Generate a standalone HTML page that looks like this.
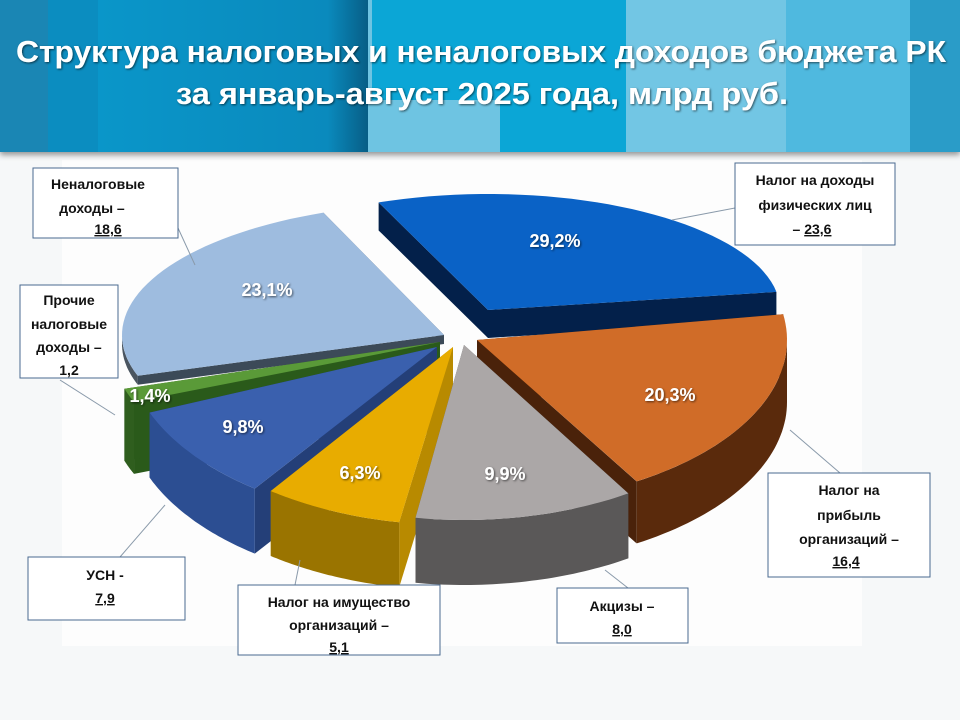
<!DOCTYPE html>
<html><head><meta charset="utf-8"><style>
html,body{margin:0;padding:0;background:#f6f8f9;}
svg{display:block}
.l{font-family:"Liberation Sans Narrow","Liberation Sans",sans-serif;font-weight:bold;font-size:14px;fill:#111;text-anchor:middle}
.p{font-family:"Liberation Sans Narrow","Liberation Sans",sans-serif;font-weight:bold;font-size:18px;fill:#fff;text-anchor:middle}
</style></head><body>
<svg id="s" width="960" height="720" xmlns="http://www.w3.org/2000/svg">
<defs>
<filter id="sh" x="-5%" y="-5%" width="110%" height="130%"><feDropShadow dx="0" dy="3" stdDeviation="3" flood-color="#000" flood-opacity="0.4"/></filter>
<filter id="ts"><feDropShadow dx="1" dy="1" stdDeviation="1" flood-color="#000" flood-opacity="0.6"/></filter>
<linearGradient id="g2" x1="0" x2="1"><stop offset="0" stop-color="#0a96c9"/><stop offset="0.85" stop-color="#0a8abd"/><stop offset="1" stop-color="#075e86"/></linearGradient>
</defs>
<rect x="0" y="0" width="960" height="720" fill="#f6f8f9"/>
<rect x="62" y="160" width="800" height="486" fill="#fdfdfd"/>
<g filter="url(#sh)">
<rect x="0" y="0" width="960" height="152" fill="#0a9acb"/>
</g>
<rect x="0" y="0" width="48" height="152" fill="#1a86b4"/>
<rect x="48" y="0" width="50" height="152" fill="#0b8dc0"/>
<rect x="98" y="0" width="270" height="152" fill="url(#g2)"/>
<rect x="368" y="0" width="132" height="152" fill="#6ec4e2"/>
<rect x="372" y="0" width="128" height="100" fill="#0ba6d6"/>
<rect x="500" y="0" width="126" height="152" fill="#0ba6d6"/>
<rect x="626" y="0" width="160" height="152" fill="#72c6e4"/>
<rect x="786" y="0" width="124" height="152" fill="#4fb9df"/>
<rect x="910" y="0" width="50" height="152" fill="#2a9cc8"/>
<g filter="url(#ts)" font-family="'Liberation Sans Narrow','Liberation Sans',sans-serif" font-weight="bold" fill="#fff" font-size="31">
<text x="16" y="62" textLength="930" lengthAdjust="spacingAndGlyphs">Структура налоговых и неналоговых доходов бюджета РК</text>
<text x="176" y="104" textLength="612" lengthAdjust="spacingAndGlyphs">за январь-август  2025 года, млрд руб.</text>
</g>
<g id="pie"></g>
<g stroke="#8a9aaa" stroke-width="1" fill="none">
<line x1="178" y1="228" x2="195" y2="265"/>
<line x1="60" y1="380" x2="115" y2="415"/>
<line x1="735" y1="208" x2="672" y2="220"/>
<line x1="840" y1="473" x2="790" y2="430"/>
<line x1="628" y1="588" x2="605" y2="570"/>
<line x1="295" y1="585" x2="300" y2="560"/>
<line x1="120" y1="557" x2="165" y2="505"/>
</g>
<g fill="#fff" stroke="#4a6a90" stroke-width="1">
<rect x="33" y="168" width="145" height="70"/>
<rect x="20" y="285" width="98" height="93"/>
<rect x="735" y="163" width="160" height="82"/>
<rect x="768" y="473" width="162" height="104"/>
<rect x="557" y="588" width="131" height="55"/>
<rect x="238" y="585" width="202" height="70"/>
<rect x="28" y="557" width="157" height="63"/>
</g>
<g class="l">
<text class="l" x="98" y="189">Неналоговые</text>
<text class="l" x="92" y="213">доходы –</text>
<text class="l" x="108" y="234" text-decoration="underline">18,6</text>
<text class="l" x="69" y="305">Прочие</text>
<text class="l" x="69" y="329">налоговые</text>
<text class="l" x="69" y="352">доходы –</text>
<text class="l" x="69" y="375">1,2</text>
<text class="l" x="815" y="185">Налог на доходы</text>
<text class="l" x="815" y="210">физических лиц</text>
<text class="l" x="812" y="234">–  <tspan text-decoration="underline">23,6</tspan></text>
<text class="l" x="849" y="495">Налог на</text>
<text class="l" x="849" y="520">прибыль</text>
<text class="l" x="849" y="544">организаций –</text>
<text class="l" x="846" y="566" text-decoration="underline">16,4</text>
<text class="l" x="622" y="611">Акцизы –</text>
<text class="l" x="622" y="634" text-decoration="underline">8,0</text>
<text class="l" x="339" y="607">Налог на имущество</text>
<text class="l" x="339" y="630">организаций –</text>
<text class="l" x="339" y="652" text-decoration="underline">5,1</text>
<text class="l" x="105" y="580">УСН -</text>
<text class="l" x="105" y="603" text-decoration="underline">7,9</text>
</g>
<g id="pl"></g>
</svg>
<script>
var NS="http://www.w3.org/2000/svg";
var sl=[
 {n:"blue",cx:488,cy:310,rx:292,ry:116,D:28,a0:-112,a1:-9,top:"#0a62c6",side:"#062a58",wall:"#03204a",lab:"29,2%",lx:555,ly:247},
 {n:"or",cx:477,cy:340,rx:310,ry:165,D:62,a0:-9,a1:59,top:"#d06c28",side:"#5a2a0c",wall:"#4a220a",lab:"20,3%",lx:670,ly:401},
 {n:"gr",cx:464,cy:345,rx:310,ry:175,D:65,a0:58,a1:99,top:"#aba7a7",side:"#5a5858",wall:"#444",lab:"9,9%",lx:505,ly:480},
 {n:"ye",cx:453,cy:347,rx:310,ry:178,D:65,a0:100,a1:126,top:"#e8ac00",side:"#9a7400",wall:"#b88a00",lab:"6,3%",lx:360,ly:479},
 {n:"db",cx:437,cy:347,rx:310,ry:175,D:65,a0:126,a1:158,top:"#3a60ae",side:"#2c4e92",wall:"#243f78",lab:"9,8%",lx:243,ly:433},
 {n:"gn",cx:440,cy:342,rx:330,ry:160,D:72,a0:158,a1:163,top:"#5a9a38",side:"#2f5e1e",wall:"#2a5a1a",lab:"1,4%",lx:150,ly:402},
 {n:"lb",cx:444,cy:335,rx:322,ry:132,D:9,a0:162,a1:248,top:"#9ebcdf",side:"#4a5560",wall:"#3c4a58",lab:"23,1%",lx:267,ly:296}
];
function P(s,a,dz){var r=a*Math.PI/180;return [s.cx+s.rx*Math.cos(r),s.cy+s.ry*Math.sin(r)+(dz||0)];}
function arc(s,a0,a1,dz,rev){var pts=[],n=40;for(var i=0;i<=n;i++){var t=rev?a1-(a1-a0)*i/n:a0+(a1-a0)*i/n;var p=P(s,t,dz);pts.push(p[0].toFixed(1)+" "+p[1].toFixed(1));}return pts.join(" L");}
function path(d,f){var e=document.createElementNS(NS,"path");e.setAttribute("d",d);e.setAttribute("fill",f);document.getElementById("pie").appendChild(e);}
var order=["blue","lb","or","gn","db","ye","gr"];
order.forEach(function(k){var s=sl.filter(function(x){return x.n==k})[0];
 var cx=s.cx,cy=s.cy,D=s.D;var p0=P(s,s.a0),p1=P(s,s.a1);
 path("M"+cx+" "+cy+" L"+p0[0]+" "+p0[1]+" L"+p0[0]+" "+(p0[1]+D)+" L"+cx+" "+(cy+D)+" Z",s.wall);
 path("M"+cx+" "+cy+" L"+p1[0]+" "+p1[1]+" L"+p1[0]+" "+(p1[1]+D)+" L"+cx+" "+(cy+D)+" Z",s.wall);
 var b0=Math.max(s.a0,0),b1=Math.min(s.a1,180);
 if(b1>b0){path("M"+arc(s,b0,b1,0)+" L"+arc(s,b0,b1,D,true)+" Z",s.side);}
 path("M"+cx+" "+cy+" L"+arc(s,s.a0,s.a1,0)+" Z",s.top);
});
var pl=document.getElementById("pl");
sl.forEach(function(s){var t=document.createElementNS(NS,"text");t.setAttribute("class","p");t.setAttribute("x",s.lx);t.setAttribute("y",s.ly);t.setAttribute("filter","url(#ts)");t.textContent=s.lab;pl.appendChild(t);});
</script>
</body></html>
